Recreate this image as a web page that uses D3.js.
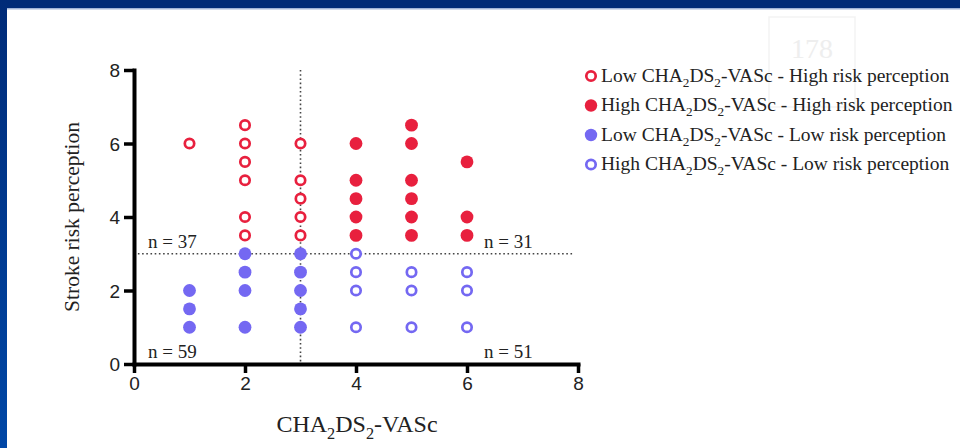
<!DOCTYPE html>
<html>
<head>
    <meta charset="utf-8">
    <title>Stroke risk perception vs CHA2DS2-VASc</title>
    <style>
        body {
            margin: 0;
            overflow: hidden;
            background: #fff;
        }
        svg {
            display: block;
        }
        .tick text {
            font-family: "Liberation Sans", Arial, sans-serif;
            font-size: 19px;
            fill: #222;
        }
        .serif {
            font-family: "Liberation Serif", "Times New Roman", serif;
            fill: #222;
        }
    </style>
</head>
<body>
    <script src="https://d3js.org/d3.v7.min.js"></script>
    <script>
        var width = 960;
        var height = 448;

        // Data: [CHA2DS2-VASc, risk perception]
        var lowScoreHighRisk = [
            [1, 6],
            [2, 6.5], [2, 6], [2, 5.5], [2, 5], [2, 4], [2, 3.5],
            [3, 6], [3, 5], [3, 4.5], [3, 4], [3, 3.5]
        ];
        var highScoreHighRisk = [
            [4, 6], [4, 5], [4, 4.5], [4, 4], [4, 3.5],
            [5, 6.5], [5, 6], [5, 5], [5, 4.5], [5, 4], [5, 3.5],
            [6, 5.5], [6, 4], [6, 3.5]
        ];
        var lowScoreLowRisk = [
            [1, 2], [1, 1.5], [1, 1],
            [2, 3], [2, 2.5], [2, 2], [2, 1],
            [3, 3], [3, 2.5], [3, 2], [3, 1.5], [3, 1]
        ];
        var highScoreLowRisk = [
            [4, 3], [4, 2.5], [4, 2], [4, 1],
            [5, 2.5], [5, 2], [5, 1],
            [6, 2.5], [6, 2], [6, 1]
        ];

        var xTicks = [0, 2, 4, 6, 8];
        var yTicks = [0, 2, 4, 6, 8];
        var xCut = 3;
        var yCut = 3;

        // quadrant counts
        var counts = [
            { label: "n = 37", x: 0, y: yCut, side: "left" },
            { label: "n = 31", x: 8, y: yCut, side: "right" },
            { label: "n = 59", x: 0, y: 0, side: "left" },
            { label: "n = 51", x: 8, y: 0, side: "right" }
        ];

        var red = "#e8203e";
        var blue = "#7468f2";

        var series = [
            { name: "Low", mid: " - High risk perception", data: lowScoreHighRisk, color: red, open: true },
            { name: "High", mid: " - High risk perception", data: highScoreHighRisk, color: red, open: false },
            { name: "Low", mid: " - Low risk perception", data: lowScoreLowRisk, color: blue, open: false },
            { name: "High", mid: " - Low risk perception", data: highScoreLowRisk, color: blue, open: true }
        ];

        var svg = d3.select("body").append("svg")
            .attr("width", width)
            .attr("height", height);

        // slide frame
        svg.append("rect").attr("x", 0).attr("y", 0).attr("width", width).attr("height", 8).attr("fill", "#002b78");
        svg.append("rect").attr("x", 0).attr("y", 8).attr("width", width).attr("height", 1.5).attr("fill", "#9fb3d8");
        var grad = svg.append("defs").append("linearGradient")
            .attr("id", "side").attr("x1", 0).attr("y1", 0).attr("x2", 0).attr("y2", 1);
        grad.append("stop").attr("offset", "0%").attr("stop-color", "#002b78");
        grad.append("stop").attr("offset", "100%").attr("stop-color", "#0047a6");
        svg.append("rect").attr("x", 0).attr("y", 0).attr("width", 7).attr("height", height).attr("fill", "url(#side)");

        // faint watermark
        svg.append("rect").attr("x", 769).attr("y", 17).attr("width", 86).attr("height", 90)
            .attr("fill", "none").attr("stroke", "#f3f3f3").attr("stroke-width", 1.5);
        svg.append("text").attr("class", "serif").attr("x", 812).attr("y", 58)
            .attr("text-anchor", "middle").attr("font-size", 28).style("fill", "#eeeeee").text("178");

        var x = d3.scaleLinear().domain([0, 8]).range([134, 578]);
        var y = d3.scaleLinear().domain([0, 8]).range([364, 70]);

        // reference lines
        svg.append("line")
            .attr("x1", x(xCut)).attr("x2", x(xCut))
            .attr("y1", y(8)).attr("y2", y(0))
            .attr("stroke", "#444").attr("stroke-width", 1.6).attr("stroke-dasharray", "1.6,2.6");
        svg.append("line")
            .attr("x1", x(0.07)).attr("x2", x(7.93))
            .attr("y1", y(yCut)).attr("y2", y(yCut))
            .attr("stroke", "#444").attr("stroke-width", 1.6).attr("stroke-dasharray", "1.6,2.6");

        // axes
        var xAxis = svg.append("g")
            .attr("transform", "translate(0," + y(0) + ")")
            .call(d3.axisBottom(x).tickValues(xTicks).tickSize(9).tickSizeOuter(0).tickPadding(4));
        var yAxis = svg.append("g")
            .attr("transform", "translate(" + x(0) + ",0)")
            .call(d3.axisLeft(y).tickValues(yTicks).tickSize(10).tickSizeOuter(0).tickPadding(4));
        [xAxis, yAxis].forEach(function(a) {
            a.select(".domain").attr("stroke", "#000").attr("stroke-width", 4).attr("stroke-linecap", "square");
            a.selectAll(".tick line").attr("stroke", "#000").attr("stroke-width", 3.5);
        });
        yAxis.selectAll(".tick text").attr("dy", "0.36em");

        // points
        series.forEach(function(s) {
            svg.append("g").selectAll("circle")
                .data(s.data)
                .enter().append("circle")
                .attr("cx", d => x(d[0]))
                .attr("cy", d => y(d[1]))
                .attr("r", s.open ? 4.7 : 6.4)
                .attr("fill", s.open ? "#fff" : s.color)
                .attr("stroke", s.open ? s.color : "none")
                .attr("stroke-width", s.open ? 2.7 : 0);
        });

        // quadrant counts
        counts.forEach(function(c) {
            svg.append("text").attr("class", "serif")
                .attr("x", c.side === "left" ? x(c.x) + 14 : x(c.x) - 94)
                .attr("y", y(c.y) - 6)
                .attr("font-size", 19)
                .text(c.label);
        });

        // CHA2DS2-VASc with subscripts
        function scoreText(sel, size) {
            var sub = size * 0.68;
            sel.append("tspan").text("CHA");
            sel.append("tspan").attr("font-size", sub).attr("dy", size * 0.28).text("2");
            sel.append("tspan").attr("dy", -size * 0.28).text("DS");
            sel.append("tspan").attr("font-size", sub).attr("dy", size * 0.28).text("2");
            sel.append("tspan").attr("dy", -size * 0.28).text("-VASc");
        }

        // axis titles
        var xt = svg.append("text").attr("class", "serif")
            .attr("x", 357).attr("y", 432)
            .attr("text-anchor", "middle")
            .attr("font-size", 24);
        scoreText(xt, 24);

        svg.append("text").attr("class", "serif")
            .attr("transform", "translate(79,217) rotate(-90)")
            .attr("text-anchor", "middle")
            .attr("font-size", 21.5)
            .text("Stroke risk perception");

        // legend
        var legend = svg.append("g").attr("transform", "translate(591,76)");
        series.forEach(function(s, i) {
            var row = legend.append("g").attr("transform", "translate(0," + (i * 29.5) + ")");
            row.append("circle")
                .attr("r", s.open ? 4.7 : 6.2)
                .attr("fill", s.open ? "#fff" : s.color)
                .attr("stroke", s.open ? s.color : "none")
                .attr("stroke-width", s.open ? 2.7 : 0);
            var t = row.append("text").attr("class", "serif")
                .attr("x", 10).attr("y", 5.5)
                .attr("font-size", 19.5);
            t.append("tspan").text(s.name + " ");
            scoreText(t, 19.5);
            t.append("tspan").attr("dy", 0).text(s.mid);
        });
    </script>
</body>
</html>
